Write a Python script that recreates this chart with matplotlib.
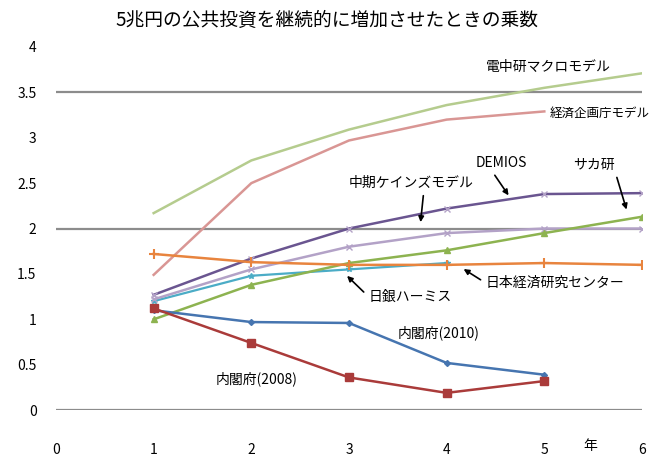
import matplotlib
matplotlib.use("Agg")
import matplotlib.pyplot as plt

plt.rcParams['font.family'] = ['Noto Sans CJK JP', 'DejaVu Sans']

# 年
years = [1, 2, 3, 4, 5, 6]

denchuken = [2.17, 2.75, 3.09, 3.36, 3.55, 3.71]
kikakucho = [1.49, 2.50, 2.97, 3.20, 3.29]
chuki = [1.27, 1.67, 2.00, 2.22, 2.38, 2.39]
demios = [1.22, 1.55, 1.80, 1.95, 2.00, 2.00]
sakaken = [1.00, 1.38, 1.62, 1.76, 1.95, 2.13]
jcer = [1.72, 1.63, 1.60, 1.60, 1.62, 1.60]
nichigin = [1.20, 1.48, 1.55, 1.62]
naikaku2010 = [1.10, 0.97, 0.96, 0.52, 0.39]
naikaku2008 = [1.12, 0.74, 0.36, 0.19, 0.32]

yticks = [0, 0.5, 1, 1.5, 2, 2.5, 3, 3.5, 4]
ylabels = ['0', '0.5', '1', '1.5', '2', '2.5', '3', '3.5', '4']

fig = plt.figure(figsize=(6.54, 4.65), dpi=100)
ax = fig.add_axes([0.0856, 0.118, 0.896, 0.781])

for y in [0, 2, 3.5]:
    ax.axhline(y, color='#8c8c8c', lw=1.6, zorder=0)

ax.plot(years, denchuken, color='#b5cc8e', lw=1.8)
ax.plot(years[:5], kikakucho, color='#d99694', lw=1.8)
ax.plot(years[:4], nichigin, color='#4bacc6', lw=1.6, marker='*', ms=4)
ax.plot(years, demios, color='#b3a2c7', lw=1.8, marker='x', ms=4)
ax.plot(years, sakaken, color='#8db350', lw=1.8, marker='^', ms=4)
ax.plot(years, chuki, color='#6a5590', lw=1.8, marker='x', ms=4, mec='#b3a2c7')
ax.plot(years, jcer, color='#e8843e', lw=1.8, marker='+', ms=7, mew=1.5)
ax.plot(years[:5], naikaku2010, color='#4675b0', lw=1.8, marker='D', ms=3)
ax.plot(years[:5], naikaku2008, color='#aa3b3a', lw=1.8, marker='s', ms=6)

fs = 10
ax.text(4.4, 3.78, '電中研マクロモデル', fontsize=fs, va='center')
ax.text(5.05, 3.27, '経済企画庁モデル', fontsize=9, va='center', clip_on=False)
ax.text(3.5, 0.85, '内閣府(2010)', fontsize=fs, va='center')
ax.text(1.63, 0.35, '内閣府(2008)', fontsize=fs, va='center')

def arr(rx):
    return dict(arrowstyle='-|>', color='black', lw=1.2, mutation_scale=8,
                relpos=(rx, 0))

ax.annotate('中期ケインズモデル', xy=(3.73, 2.04), xytext=(3.0, 2.5),
            fontsize=fs, va='center', arrowprops=arr(0.6))
ax.annotate('DEMIOS', xy=(4.65, 2.34), xytext=(4.3, 2.72),
            fontsize=fs, va='center', arrowprops=arr(0.3))
ax.annotate('サカ研', xy=(5.85, 2.18), xytext=(5.3, 2.7),
            fontsize=fs, va='center', arrowprops=arr(1.0))
ax.annotate('日銀ハーミス', xy=(2.96, 1.5), xytext=(3.2, 1.25),
            fontsize=fs, va='center',
            arrowprops=dict(arrowstyle='-|>', color='black', lw=1.2,
                            mutation_scale=8, relpos=(0, 0.5)))
ax.annotate('日本経済研究センター', xy=(4.15, 1.57), xytext=(4.4, 1.4),
            fontsize=fs, va='center', annotation_clip=False,
            arrowprops=dict(arrowstyle='-|>', color='black', lw=1.2,
                            mutation_scale=8, relpos=(0, 0.5)))

ax.set_xlim(0, 6)
ax.set_ylim(0, 4)
ax.set_xticks([0] + years)
ax.set_yticks(yticks)
ax.set_yticklabels(ylabels)
ax.tick_params(axis='x', length=0, pad=24, labelsize=10)
ax.tick_params(axis='y', length=0, pad=14, labelsize=10)
for s in ax.spines.values():
    s.set_visible(False)

ax.text(5.47, -0.4, '年', fontsize=10, ha='center', va='center')
fig.text(0.5, 0.957, '5兆円の公共投資を継続的に増加させたときの乗数',
         fontsize=13.5, ha='center', va='center')

fig.savefig('out.png', dpi=100)
